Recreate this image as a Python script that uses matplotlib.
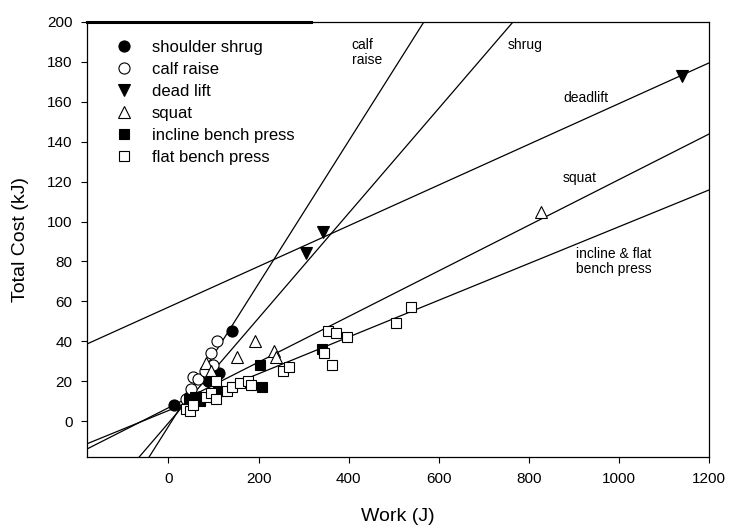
import matplotlib
matplotlib.use("Agg")
import matplotlib.pyplot as plt

plt.rcParams['font.family'] = ['Liberation Sans', 'DejaVu Sans']

# ---- data ----
shrug_x = [12, 45, 55, 68, 88, 112, 142]
shrug_y = [8, 12, 10, 12, 20, 24, 45]

calf_x = [38, 50, 55, 66, 80, 94, 98, 107]
calf_y = [11, 16, 22, 21, 25, 34, 28, 40]

dead_x = [305, 343, 1139]
dead_y = [84, 95, 173]

squat_x = [83, 95, 153, 192, 234, 238, 828]
squat_y = [29, 25, 32, 40, 35, 32, 105]

incline_x = [45, 58, 70, 95, 110, 204, 207, 341]
incline_y = [11, 12, 10, 20, 15, 28, 17, 36]

flat_x = [38, 47, 55, 84, 95, 106, 106, 129, 142, 158, 177, 184, 255, 268,
          345, 354, 362, 371, 396, 505, 538]
flat_y = [6, 5, 8, 12, 14, 20, 11, 15, 17, 19, 20, 18, 25, 27,
          34, 45, 28, 44, 42, 49, 57]

# regression lines: name, intercept, slope
line_names = ["calf raise", "shrug", "deadlift", "squat", "bench"]
line_intercepts = [-2.6, -0.9, 57.1, 6.7, 5.3]
line_slopes = [0.3574, 0.2627, 0.1020, 0.1143, 0.0921]

x_ticks = [0, 200, 400, 600, 800, 1000, 1200]
y_ticks = [0, 20, 40, 60, 80, 100, 120, 140, 160, 180, 200]

# ---- figure ----
fig = plt.figure(figsize=(7.29, 5.30), dpi=100)
ax = fig.add_axes([0.1193, 0.1377, 0.9726 - 0.1193, 0.9585 - 0.1377])

for b, m in zip(line_intercepts, line_slopes):
    ax.axline((0, b), slope=m, color='black', lw=0.9, zorder=2)

ms = 8
ax.plot(shrug_x, shrug_y, 'o', ms=ms, mfc='black', mec='black', mew=0.8,
        ls='none', label='shoulder shrug', zorder=4)
ax.plot(calf_x, calf_y, 'o', ms=ms, mfc='white', mec='black', mew=0.8,
        ls='none', label='calf raise', zorder=4)
ax.plot(dead_x, dead_y, 'v', ms=ms, mfc='black', mec='black', mew=0.8,
        ls='none', label='dead lift', zorder=4)
ax.plot(squat_x, squat_y, '^', ms=ms, mfc='white', mec='black', mew=0.8,
        ls='none', label='squat', zorder=4)
ax.plot(incline_x, incline_y, 's', ms=ms - 0.5, mfc='black', mec='black', mew=0.8,
        ls='none', label='incline bench press', zorder=4)
ax.plot(flat_x, flat_y, 's', ms=ms - 0.5, mfc='white', mec='black', mew=0.8,
        ls='none', label='flat bench press', zorder=5)

ax.set_xlim(-181, 1200)
ax.set_ylim(-18, 200)
ax.set_xticks(x_ticks)
ax.set_yticks(y_ticks)
ax.tick_params(direction='out', length=4.5, width=0.8, labelsize=11,
               top=False, right=False, pad=6)
for s in ax.spines.values():
    s.set_linewidth(0.9)
# thicker segment on top border as in the reference
ax.axhline(200, xmin=0, xmax=0.36, color='black', lw=2.2, clip_on=False, zorder=6)

ax.set_xlabel('Work (J)', fontsize=14, labelpad=16)
ax.set_ylabel('Total Cost (kJ)', fontsize=14, labelpad=13)

# line annotations
ax.text(407, 192, 'calf\nraise', fontsize=10, va='top', ha='left', linespacing=1.1)
ax.text(753, 192, 'shrug', fontsize=10, va='top', ha='left')
ax.text(876, 162, 'deadlift', fontsize=10, va='center', ha='left')
ax.text(876, 122, 'squat', fontsize=10, va='center', ha='left')
ax.text(905, 80, 'incline & flat\nbench press', fontsize=10, va='center',
        ha='left', linespacing=1.1)

ax.legend(loc='upper left', frameon=False, fontsize=12, handlelength=1.0,
          handletextpad=1.2, labelspacing=0.42, borderaxespad=0.0,
          bbox_to_anchor=(0.035, 0.975), markerscale=1.0)

fig.savefig('out.png', dpi=100)
